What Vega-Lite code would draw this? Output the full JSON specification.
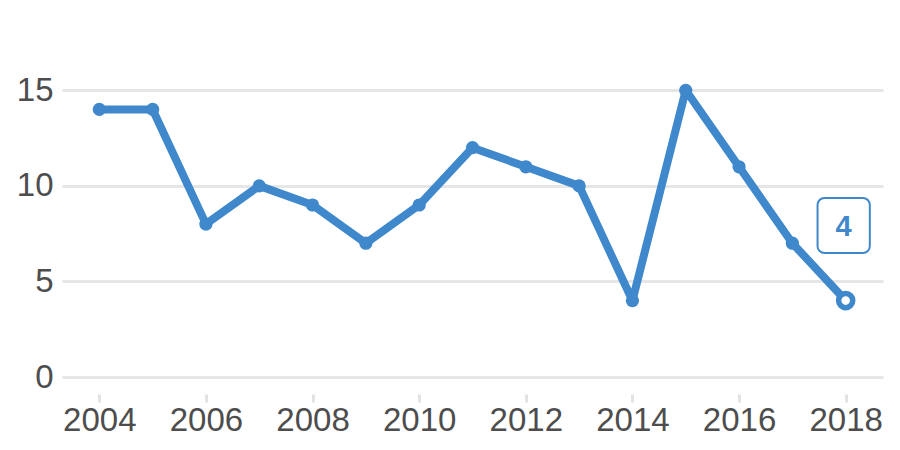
{
  "$schema": "https://vega.github.io/schema/vega-lite/v6.json",
  "width": 821,
  "height": 344,
  "autosize": {"type": "none"},
  "padding": {"left": 62, "top": 33, "right": 17, "bottom": 73},
  "background": "white",
  "config": {
    "view": {"stroke": null},
    "font": "Liberation Sans"
  },
  "data": {
    "values": [
      {"year": 2004, "value": 14},
      {"year": 2005, "value": 14},
      {"year": 2006, "value": 8},
      {"year": 2007, "value": 10},
      {"year": 2008, "value": 9},
      {"year": 2009, "value": 7},
      {"year": 2010, "value": 9},
      {"year": 2011, "value": 12},
      {"year": 2012, "value": 11},
      {"year": 2013, "value": 10},
      {"year": 2014, "value": 4},
      {"year": 2015, "value": 15},
      {"year": 2016, "value": 11},
      {"year": 2017, "value": 7},
      {"year": 2018, "value": 4}
    ]
  },
  "encoding": {
    "x": {
      "field": "year",
      "type": "quantitative",
      "scale": {"domain": [2003.3, 2018.7], "nice": false, "zero": false},
      "axis": {
        "title": null,
        "values": [2004, 2006, 2008, 2010, 2012, 2014, 2016, 2018],
        "format": "d",
        "grid": false,
        "domain": false,
        "ticks": true,
        "tickColor": "#e3e3e3",
        "tickWidth": 3,
        "tickSize": 8,
        "offset": 17,
        "labelPadding": 2,
        "labelFontSize": 33,
        "labelColor": "#4d4d4d"
      }
    },
    "y": {
      "field": "value",
      "type": "quantitative",
      "scale": {"domain": [0, 18], "nice": false},
      "axis": {
        "title": null,
        "values": [0, 5, 10, 15],
        "grid": true,
        "gridColor": "#e6e6e6",
        "gridWidth": 3,
        "domain": false,
        "ticks": false,
        "labelPadding": 9,
        "labelFontSize": 33,
        "labelColor": "#4d4d4d"
      }
    }
  },
  "layer": [
    {
      "mark": {"type": "line", "color": "#3f88cb", "strokeWidth": 8, "strokeJoin": "round"}
    },
    {
      "mark": {"type": "point", "filled": true, "color": "#3f88cb", "size": 175, "opacity": 1}
    },
    {
      "transform": [{"filter": "datum.year == 2018"}],
      "mark": {"type": "point", "filled": true, "fill": "white", "stroke": "#3f88cb", "strokeWidth": 5.5, "size": 200, "opacity": 1}
    },
    {
      "transform": [{"filter": "datum.year == 2018"}],
      "mark": {
        "type": "point",
        "shape": "M -0.7,-1 H 0.7 A 0.25 0.25 0 0 1 0.95 -0.75 V 0.75 A 0.25 0.25 0 0 1 0.7 1 H -0.7 A 0.25 0.25 0 0 1 -0.95 0.75 V -0.75 A 0.25 0.25 0 0 1 -0.7 -1 Z",
        "size": 3025,
        "filled": false,
        "fill": "white",
        "fillOpacity": 1,
        "stroke": "#3f88cb",
        "strokeWidth": 2,
        "opacity": 1,
        "xOffset": -2,
        "yOffset": -75
      }
    },
    {
      "transform": [{"filter": "datum.year == 2018"}],
      "mark": {
        "type": "text",
        "color": "#3f88cb",
        "fontSize": 29,
        "fontWeight": "bold",
        "align": "center",
        "baseline": "middle",
        "xOffset": -2,
        "yOffset": -74
      },
      "encoding": {"text": {"field": "value", "type": "quantitative"}}
    }
  ]
}
